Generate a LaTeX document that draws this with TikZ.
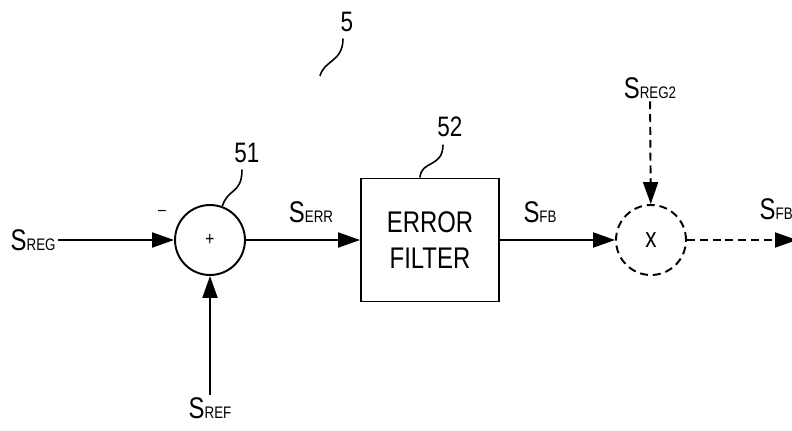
\documentclass[tikz,border=0pt]{standalone}
\usepackage{fontspec}
\setmainfont{Liberation Sans}[FakeStretch=0.8]
\usetikzlibrary{arrows.meta,calc}
\newcommand{\sgnl}[1]{{\fontsize{17}{17}\selectfont S}{\fontsize{9.5}{9.5}\selectfont #1}}

\begin{document}
\begin{tikzpicture}[x=0.02cm, y=-0.02cm, line width=1.1pt,
  blk/.style={draw, minimum width=2.76cm, minimum height=2.46cm, align=center, font=\fontsize{17}{20}\selectfont},
  sumc/.style={draw, circle, minimum size=1.4cm, inner sep=0pt},
  sig/.style={inner sep=1pt},
  tip/.style={-{Triangle[length=0.44cm,width=0.3cm]}},
  dsh/.style={dash pattern=on 4.5pt off 2.8pt},
  num/.style={inner sep=1pt, font=\fontsize{16}{16}\selectfont},
  ldr/.style={line width=0.9pt}]
\useasboundingbox (0,0) rectangle (792,430);
% blocks
\node[sumc] (sum) at (210,240) {\fontsize{11}{11}\selectfont +};
\node[blk] (filt) at (430,240) {ERROR\\FILTER};
\node[sumc, dsh] (mult) at (651,240) {\fontsize{16}{16}\selectfont x};
% signals
\node[sig, anchor=west] (reg) at (8,240) {\sgnl{REG}};
\node[sig] (ref) at (210,408) {\sgnl{REF}};
\node[sig] (err) at (311,212) {\sgnl{ERR}};
\node[sig] (fb) at (540,212) {\sgnl{FB}};
\node[sig] (reg2) at (650,88) {\sgnl{REG2}};
\node[sig, anchor=west] (fbout) at (757,209) {\sgnl{FB}};
\node (minus) at (162,213) {\fontsize{10}{10}\selectfont \textendash};
\coordinate (out) at (797,240);
\draw[tip] (reg.east) -- (sum.west);
\draw[tip] (ref) -- (sum);
\draw[tip] (sum) -- (filt);
\draw[tip] (filt) -- (mult);
\draw[tip, dsh] (reg2) -- (mult);
\draw[tip, dsh] (mult) -- (out);
% reference numerals
\node[num] (n5) at (347,22) {5};
\node[num] (n51) at (247,153) {51};
\node[num] (n52) at (450,127) {52};
\draw[ldr] ($(n5.south)+(-4,4)$) .. controls (343,62) and (324,60) .. (320,76);
\draw[ldr] ($(n51.south)+(-5,4)$) .. controls (242,194) and (228,188) .. (sum.70);
\draw[ldr] ($(n52.south)+(-7,5)$) .. controls (443,168) and (421,160) .. ($(filt.north)+(-10,0)$);
\end{tikzpicture}
\end{document}
